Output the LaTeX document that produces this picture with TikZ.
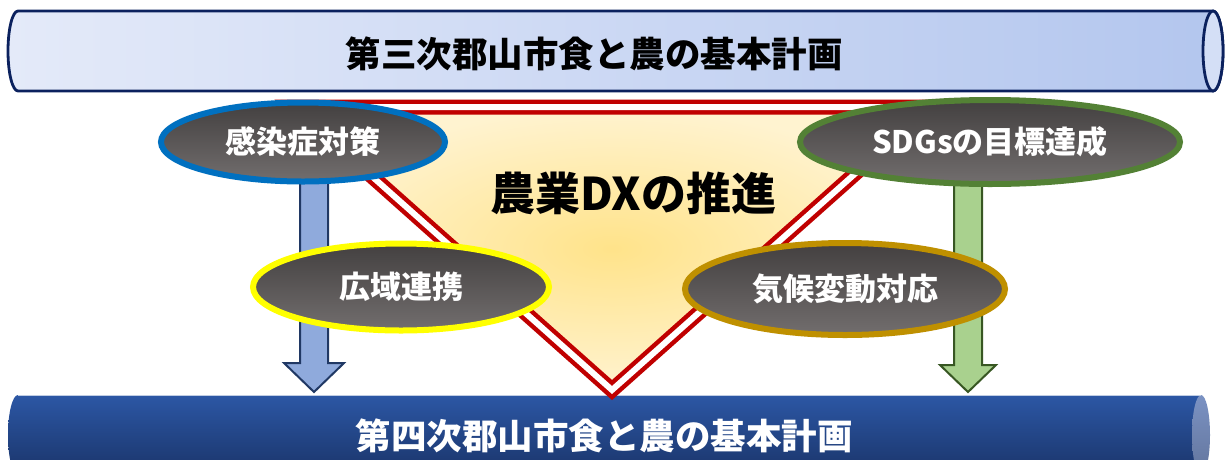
\documentclass[tikz,border=0pt]{standalone}
\usepackage{fontspec}
\setmainfont{Noto Sans CJK JP}
\usetikzlibrary{shapes.geometric,calc}
\definecolor{navy}{HTML}{0B215E}
\definecolor{cylL}{HTML}{E4EAF9}
\definecolor{cylR}{HTML}{B3C6EE}
\definecolor{capT}{HTML}{D4DFF6}
\definecolor{cyl4T}{HTML}{2C57A5}
\definecolor{cyl4B}{HTML}{1A3469}
\definecolor{cap4}{HTML}{7B92C3}
\definecolor{tred}{HTML}{C00000}
\definecolor{yin}{HTML}{FFE38A}
\definecolor{yout}{HTML}{FFF3D0}
\definecolor{gtop}{HTML}{434040}
\definecolor{gbot}{HTML}{726E6E}
\definecolor{eblue}{HTML}{0070C0}
\definecolor{eyellow}{HTML}{FFFF00}
\definecolor{egreen}{HTML}{538135}
\definecolor{egold}{HTML}{BF9000}
\definecolor{abfill}{HTML}{8FAADC}
\definecolor{abline}{HTML}{203864}
\definecolor{agfill}{HTML}{A9D18E}
\definecolor{agline}{HTML}{385723}
\tikzset{
  goal/.style={ellipse, inner sep=0pt, line width=6pt, top color=gtop, bottom color=gbot,
    text=white, font=\fontsize{31}{31}\selectfont\bfseries},
  title/.style={inner sep=0pt, font=\fontsize{35.5}{35.5}\selectfont\bfseries},
  barrow/.style={fill=abfill, draw=abline, line width=2pt, line join=miter},
  garrow/.style={fill=agfill, draw=agline, line width=2pt, line join=miter},
}
\begin{document}
\begin{tikzpicture}[x=1pt,y=-1pt]
\useasboundingbox (0,0) rectangle (1227,459);
\clip (0,0) rectangle (1227,459);
\fill[white] (0,0) rectangle (1227,459);
% top cylinder
\path[left color=cylL, right color=cylR] (18,11) -- (1213,11)
  arc[start angle=-90, end angle=90, x radius=10, y radius=40]
  -- (18,91) arc[start angle=90, end angle=270, x radius=10, y radius=40] -- cycle;
\draw[navy, line width=2.8pt] (18,11) -- (1213,11)
  arc[start angle=-90, end angle=90, x radius=10, y radius=40]
  -- (18,91) arc[start angle=90, end angle=270, x radius=10, y radius=40] -- cycle;
\draw[navy, line width=2.8pt, fill=capT] (1213,51) ellipse[x radius=10, y radius=40];
\node[title] (plan3) at (594,54) {第三次郡山市食と農の基本計画};
% bottom cylinder
\path[top color=cyl4T, bottom color=cyl4B] (18,395) rectangle (1201,475);
\path[top color=cyl4T, bottom color=cyl4B] (18,435) ellipse[x radius=10, y radius=40];
\path[top color=cap4, bottom color=cap4!80!black] (1201,435) ellipse[x radius=9, y radius=40];
\draw[white!70!cyl4T, line width=0.8pt] (18,395) -- (1201,395);
\node[title, text=white] (plan4) at (604,436) {第四次郡山市食と農の基本計画};
% triangle
\coordinate (tl) at (294,107);
\coordinate (tr) at (930,107);
\coordinate (ap) at (612,390);
\path[inner color=yin, outer color=yout] (tl) -- (tr) -- (ap) -- cycle;
\draw[draw=tred, line width=4.5pt, double=white, double distance=6pt, line join=miter] (tl) -- (tr) -- (ap) -- cycle;
\node[inner sep=0pt, font=\fontsize{45}{45}\selectfont\bfseries] (dx) at (633,193) {農業DXの推進};
% arrows
\coordinate (tipB) at (314,392);
\coordinate (tipG) at (968,392);
\draw[barrow] ($(tipB)+(-14,-240)$) -- ($(tipB)+(-14,-29)$) -- ($(tipB)+(-30,-29)$) -- (tipB)
  -- ($(tipB)+(30,-29)$) -- ($(tipB)+(14,-29)$) -- ($(tipB)+(14,-240)$) -- cycle;
\draw[garrow] ($(tipG)+(-14,-240)$) -- ($(tipG)+(-14,-27)$) -- ($(tipG)+(-28,-27)$) -- (tipG)
  -- ($(tipG)+(28,-27)$) -- ($(tipG)+(14,-27)$) -- ($(tipG)+(14,-240)$) -- cycle;
% goal ellipses
\node[goal, draw=eblue, minimum width=284pt, minimum height=79pt] (kansen) at (303,142) {感染症対策};
\node[goal, draw=egreen, minimum width=380pt, minimum height=84pt] (sdgs) at (990,142) {SDGsの目標達成};
\node[goal, draw=eyellow, minimum width=296pt, minimum height=87pt] (kouiki) at (401,287) {広域連携};
\node[goal, draw=egold, minimum width=320pt, minimum height=92pt] (kikou) at (845,289) {気候変動対応};
\end{tikzpicture}
\end{document}
